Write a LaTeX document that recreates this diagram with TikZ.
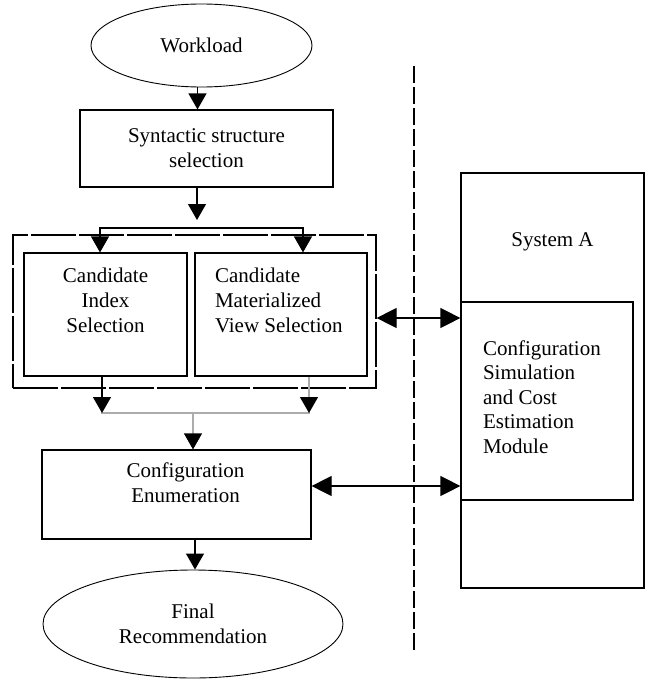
\documentclass[tikz,border=0pt]{standalone}
\usepackage{fontspec}
\setmainfont{Liberation Serif}
\usetikzlibrary{arrows.meta,shapes.geometric}
\begin{document}
\begin{tikzpicture}[x=1pt,y=-1pt,
  line width=1.2pt,
  every node/.style={font=\fontsize{21}{25}\selectfont},
  box/.style={draw, rectangle, inner sep=0pt},
  oval/.style={draw, ellipse, inner sep=0pt, line width=0.9pt},
  tipk/.style={-{Triangle[length=16pt,width=18pt,color=black]}},
  both/.style={{Triangle[length=20pt,width=20pt]}-{Triangle[length=20pt,width=20pt]}},
  merge/.style={draw=gray!65},
  sepline/.style={dash pattern=on 17pt off 4pt, line width=1.1pt},
  grpline/.style={dash pattern=on 45pt off 3pt}]
\useasboundingbox (0,0) rectangle (647,680);

% left column: workload and structure selection
\node[oval, minimum width=221pt, minimum height=83pt] (wl) at (201.5,45.5) {Workload};
\node[box, minimum width=253pt, minimum height=77pt, align=center] (syn) at (206.5,148.5)
  {Syntactic structure\\selection};

% candidate selection group
\node[box, grpline, minimum width=363pt, minimum height=153pt] (grp) at (194.5,311.5) {};
\node[box] (cis) at (105.5,314.5)
  {\parbox[c][123pt][t]{163pt}{\centering\rule{0pt}{29pt}Candidate\\Index\\Selection}};
\node[box] (cmv) at (281,314.5)
  {\parbox[c][123pt][t]{172pt}{\raggedright\leftskip=20pt\rule{0pt}{29pt}Candidate\\Materialized\\View Selection}};

% enumeration and result
\node[box] (enum) at (176.5,494.5)
  {\parbox[c][89pt][t]{269pt}{\centering\leftskip=18pt plus 1fil\rule{0pt}{27pt}Configuration\\Enumeration}};
\node[oval, minimum width=300pt, minimum height=108pt, align=center] (fin) at (193,624)
  {Final\\Recommendation};

% system side
\node[box] (sys) at (552.5,380.5)
  {\parbox[c][415pt][t]{183pt}{\centering\rule{0pt}{73pt}System A}};
\node[box, fill=white] (mod) at (547,401)
  {\parbox[c][198pt][t]{172pt}{\fontsize{21}{24.5}\selectfont\raggedright\leftskip=22pt\rule{0pt}{53pt}Configuration\\Simulation\\and Cost\\Estimation\\Module}};

% boundary between the tool and the system
\coordinate (sepT) at (414,66);
\coordinate (sepB) at (414,652);
\draw[sepline] (sepT) -- (sepB);

% flow connectors
\draw[tipk] ([xshift=-4pt]wl.south) -- ([xshift=-4pt]wl.south |- syn.north);
\coordinate (forkin) at (197,220);
\draw[tipk] (syn.south -| forkin) -- (forkin);
\coordinate (fl) at (100,228);
\coordinate (fr) at (303,228);
\draw[line cap=rect] (fl) -- (fr);
\draw[tipk] (fl) -- (fl |- cis.north);
\draw[tipk] (fr) -- (fr |- cmv.north);

\coordinate (ml) at (102,413);
\coordinate (mr) at (309,413);
\coordinate (mc) at (193,413);
\draw[merge, line cap=rect] (ml) -- (mr);
\draw[tipk] (cis.south -| ml) -- (ml);
\draw[tipk, merge] (cmv.south -| mr) -- (mr);
\draw[tipk, merge] (mc) -- (mc |- enum.north);
\draw[tipk] ([xshift=18.5pt]enum.south) -- ([xshift=18.5pt]enum.south |- fin.north);

% links to the simulation module
\coordinate (h1) at (0,318);
\coordinate (h2) at (0,486);
\draw[both] (grp.east |- h1) -- (mod.west |- h1);
\draw[both] (enum.east |- h2) -- (mod.west |- h2);
\end{tikzpicture}
\end{document}
